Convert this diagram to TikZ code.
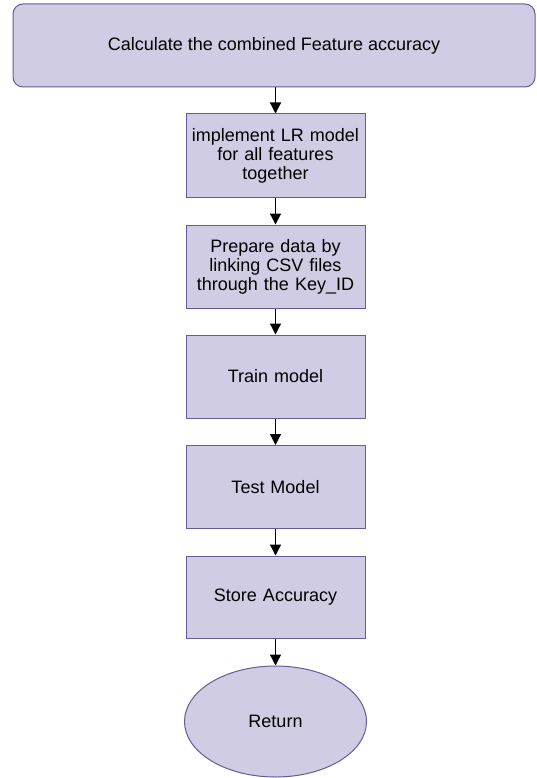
\documentclass[tikz,border=0pt]{standalone}
\usepackage{fontspec}
\setmainfont{Liberation Sans}
\usetikzlibrary{shapes.geometric,arrows.meta}
\definecolor{boxfill}{RGB}{208,204,228}
\definecolor{boxline}{RGB}{100,92,150}
\tikzset{
  base/.style={draw=boxline, fill=boxfill, line width=1pt, inner sep=2pt,
    font=\fontsize{18}{19}\selectfont, align=center, text=black},
  roundbox/.style={base, rounded corners=10pt, minimum width=522pt, minimum height=83pt},
  stepbox/.style={base, minimum width=179pt, minimum height=83pt, text width=174pt},
  endoval/.style={base, ellipse, minimum width=182pt, minimum height=111pt},
  conn/.style={-{Triangle[length=11pt,width=11pt]}, line width=1.3pt, black}
}
\begin{document}
\begin{tikzpicture}[x=1pt,y=-1pt]
\useasboundingbox (0,0) rectangle (536,778);
\node[roundbox] (top) at (274,45.5) {Calculate the combined Feature accuracy};
\node[stepbox] (b1) at (275.5,155.5) {implement LR model\\for all features\\together};
\node[stepbox] (b2) at (275.5,266.5) {Prepare data by\\linking CSV files\\through the Key\_ID};
\node[stepbox] (b3) at (275.5,376.5) {Train model};
\node[stepbox] (b4) at (275.5,487) {Test Model};
\node[stepbox, minimum height=82pt] (b5) at (275.5,597) {Store Accuracy};
\node[endoval] (ret) at (275.5,721.5) {Return};
\draw[conn] (top.south -| b1.north) -- (b1.north);
\draw[conn] (b1) -- (b2);
\draw[conn] (b2) -- (b3);
\draw[conn] (b3) -- (b4);
\draw[conn] (b4) -- (b5);
\draw[conn] (b5) -- (ret);
\end{tikzpicture}
\end{document}
